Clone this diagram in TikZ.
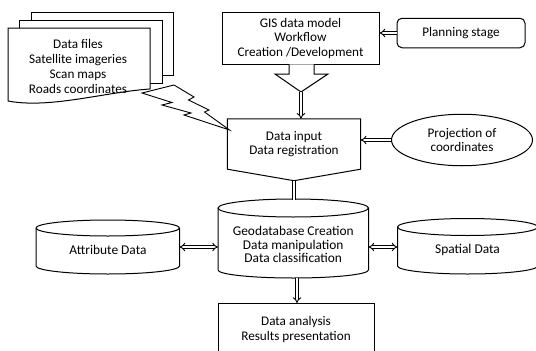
\documentclass[tikz,border=0pt]{standalone}
\usepackage{fontspec}
\setmainfont{Carlito}
\usetikzlibrary{shapes.geometric,arrows.meta,calc}
\begin{document}
\begin{tikzpicture}[x=1pt,y=-1pt,
 shp/.style={draw, line width=1pt, fill=white},
 outl/.style={draw, line width=1pt},
 txt/.style={align=center, font=\fontsize{13.2}{14.2}\selectfont, inner sep=0pt},
 ctxt/.style={align=center, font=\fontsize{13.4}{13.7}\selectfont, inner sep=0pt},
 dbl/.style={double, double distance=2pt, line width=0.9pt, -{Implies}},
 dblboth/.style={double, double distance=2pt, line width=0.9pt, {Implies}-{Implies}},
 dblline/.style={double, double distance=2pt, line width=0.9pt},
]
\useasboundingbox (0,0) rectangle (536,351);
\fill[white] (0,0) rectangle (536,351);
\clip (0,0) rectangle (536,351);

% stacked documents
\draw[shp] (31,12) rectangle (173,75);
\draw[shp] (19,20) rectangle (162,83);
\draw[shp] (8,28) -- (150,28) -- (150,89) .. controls (105,92) and (50,109) .. (8,101) -- cycle;
\node[txt, font=\fontsize{13.2}{14.8}\selectfont] (files) at (78,66.5) {Data files\\Satellite imageries\\Scan maps\\Roads coordinates};

% GIS data model
\node[shp, txt, minimum width=157pt, minimum height=52pt] (gis) at (300.5,38.3) {GIS data model\\Workflow\\Creation /Development};
\draw[shp] (289,64.3) -- (289,74) -- (275,74) -- (301,92) -- (328,74) -- (314,74) -- (314,64.3);
\coordinate (tipA) at (301,92);

% planning stage
\node[shp, txt, rounded corners=5pt, minimum width=128pt, minimum height=29.5pt] (plan) at (461,33) {Planning stage};
\draw[dbl] (plan.west) -- (plan.west -| gis.east);

% data input
\node[txt, minimum width=133pt, minimum height=50pt] (din) at (294,144) {Data input\\Data registration};
\draw[outl] (din.north west) -- (din.north east) -- (din.south east) -- ($(din.south)+(0,11.5)$) -- (din.south west) -- cycle;
\coordinate (dinTip) at ($(din.south)+(0,11.5)$);

% lightning bolt
\draw[shp, line width=0.9pt] (142,93) -- (174,85) -- (194,97) -- (188.5,100) -- (209,110) -- (204.5,112) -- (229.5,130) -- (184,115) -- (191,113) -- (162,105) -- (172,102.5) -- cycle;

\draw[dbl] (tipA) -- (tipA |- din.north);

% projection
\node[shp, txt, ellipse, minimum width=141pt, minimum height=51.5pt] (proj) at (462,140) {Projection of\\coordinates};
\draw[dbl] (proj.west) -- (proj.west -| din.east);

% geodatabase cylinder
\draw[shp] (218,208) -- (218,270) arc[start angle=180, end angle=360, x radius=75.25pt, y radius=8pt] -- (368.5,208) arc[start angle=0, end angle=180, x radius=75.25pt, y radius=9pt] -- cycle;
\draw[outl] (218,208) arc[start angle=180, end angle=360, x radius=75.25pt, y radius=9pt];
\node[ctxt] (geo) at (293.25,244.5) {Geodatabase Creation\\Data manipulation\\Data classification};
\coordinate (geoW) at (218,247);
\coordinate (geoE) at (368.5,247);
\coordinate (geoTop) at (294,199.5);
\coordinate (geoBot) at (297,278);
\draw[dblline] (dinTip) -- (geoTop);

% attribute data cylinder
\draw[shp] (36,228) -- (36,266) arc[start angle=180, end angle=360, x radius=71.75pt, y radius=8pt] -- (179.5,228) arc[start angle=0, end angle=180, x radius=71.75pt, y radius=8pt] -- cycle;
\draw[outl] (36,228) arc[start angle=180, end angle=360, x radius=71.75pt, y radius=8pt];
\node[ctxt] (att) at (108,250) {Attribute Data};
\coordinate (attE) at (179.5,247);

% spatial data cylinder
\draw[shp] (397.5,227) -- (397.5,266) arc[start angle=180, end angle=360, x radius=70pt, y radius=8pt] -- (537.5,227) arc[start angle=0, end angle=180, x radius=70pt, y radius=8.5pt] -- cycle;
\draw[outl] (397.5,227) arc[start angle=180, end angle=360, x radius=70pt, y radius=8.5pt];
\node[ctxt] (spa) at (467.5,249.5) {Spatial Data};
\coordinate (spW) at (397.5,247);

\draw[dblboth] (attE) -- (geoW);
\draw[dblboth] (geoE) -- (spW);

% results
\node[shp, minimum width=156pt, minimum height=60pt, anchor=north] (resbox) at (296.3,303) {};
\node[txt] (res) at (296,329.5) {Data analysis\\Results presentation};
\draw[dbl] (geoBot) -- (geoBot |- resbox.north);
\end{tikzpicture}
\end{document}
